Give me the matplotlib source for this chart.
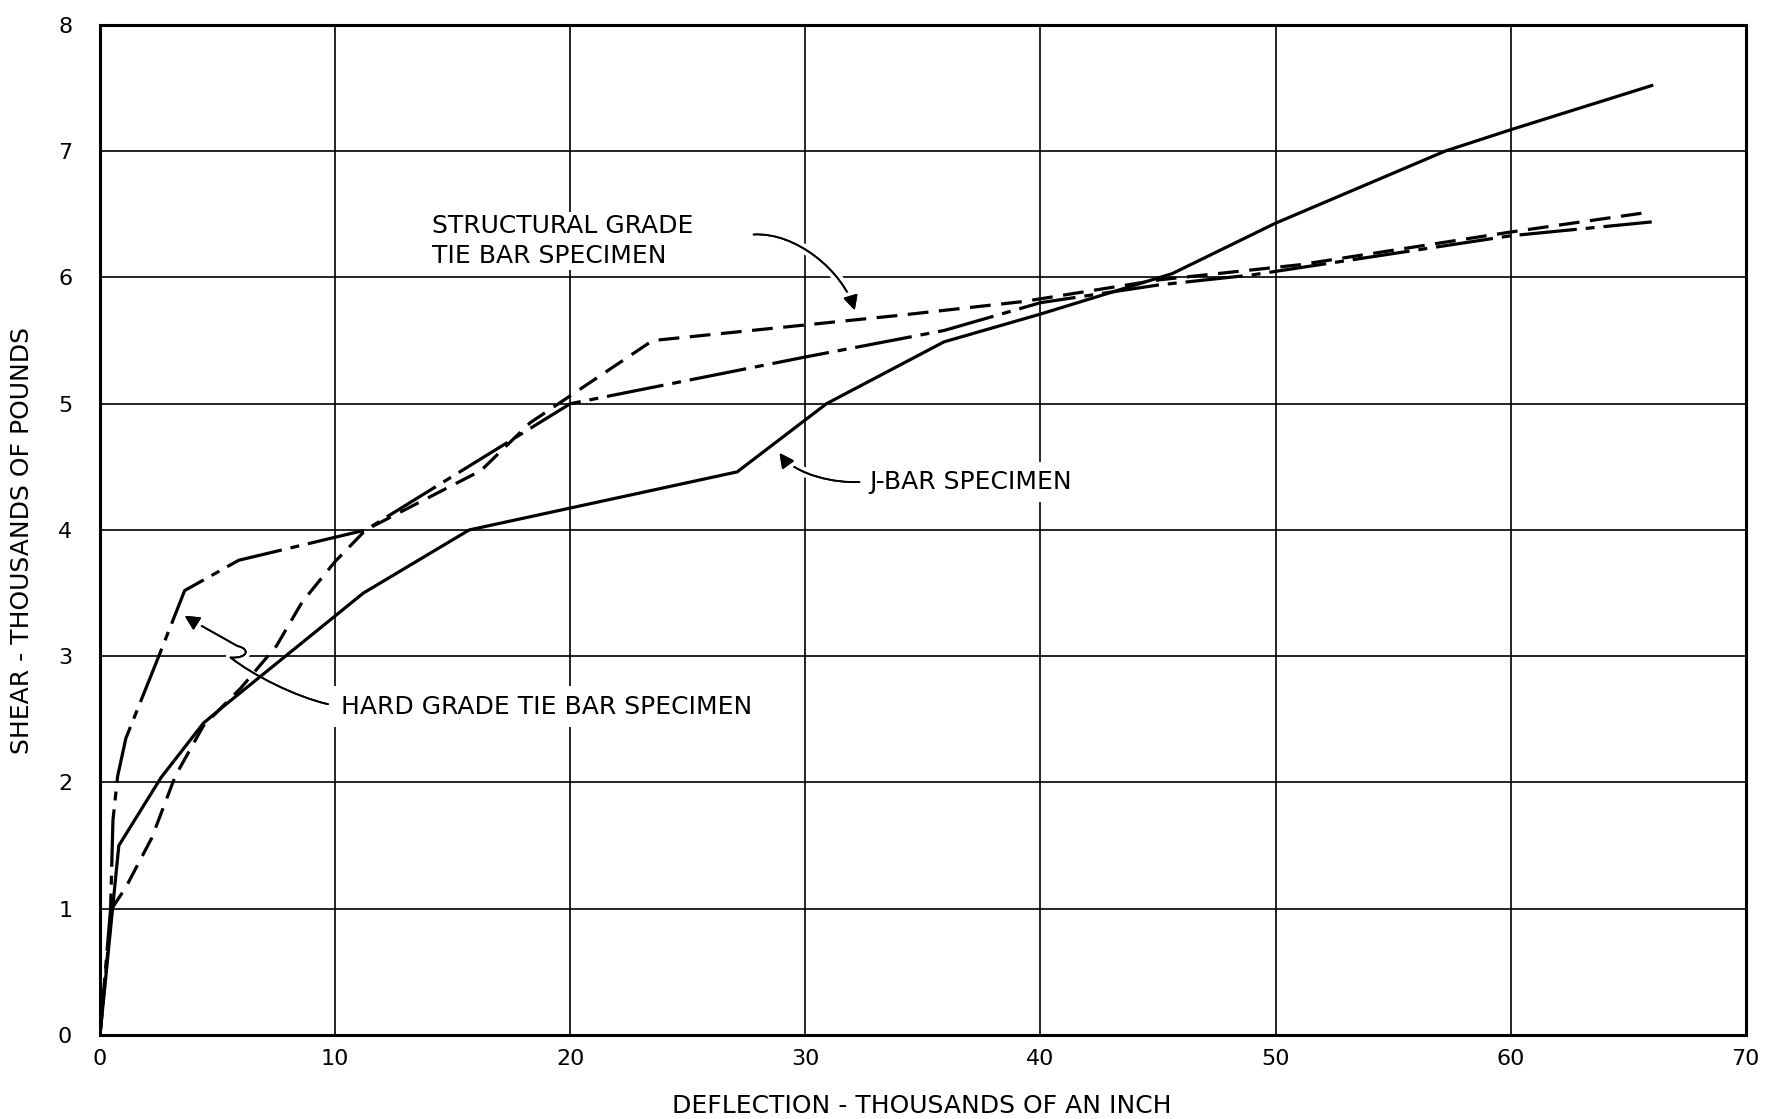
import matplotlib
matplotlib.use("Agg")
import matplotlib.pyplot as plt
from matplotlib.patches import FancyArrowPatch
from matplotlib.path import Path
import matplotlib.patheffects as pe

plt.rcParams['font.family'] = ['DejaVu Sans']

# ---- data ----
x_ticks = [0, 10, 20, 30, 40, 50, 60, 70]
y_ticks = [0, 1, 2, 3, 4, 5, 6, 7, 8]

jbar_x = [0, 0.8, 2.6, 4.4, 5.3, 11.2, 15.7, 27.1, 30.9, 35.9, 40.0, 45.6, 50.0, 57.2, 60.0, 66.0]
jbar_y = [0, 1.5, 2.04, 2.47, 2.61, 3.5, 4.0, 4.46, 5.0, 5.49, 5.71, 6.03, 6.43, 7.0, 7.17, 7.52]

hard_x = [0, 0.45, 0.55, 0.75, 1.1, 2.5, 3.6, 5.9, 11.3, 20.0, 30.0, 35.9, 40.0, 45.0, 49.0, 60.0, 66.0]
hard_y = [0, 1.0, 1.7, 2.05, 2.35, 3.0, 3.52, 3.76, 4.0, 5.0, 5.37, 5.58, 5.8, 5.94, 6.02, 6.33, 6.44]

struct_x = [0, 0.5, 1.1, 2.2, 3.2, 4.4, 6.0, 7.5, 8.6, 10.0, 11.3, 16.2, 18.3, 23.5, 34.0, 39.3, 45.0, 51.0, 60.0, 66.0]
struct_y = [0, 1.0, 1.17, 1.56, 2.05, 2.45, 2.75, 3.08, 3.43, 3.75, 4.0, 4.47, 4.85, 5.5, 5.7, 5.81, 5.98, 6.1, 6.36, 6.52]

label_struct = "STRUCTURAL GRADE\nTIE BAR SPECIMEN"
label_jbar = "J-BAR SPECIMEN"
label_hard = "HARD GRADE TIE BAR SPECIMEN"

# ---- figure ----
fig = plt.figure(figsize=(17.67, 11.19), dpi=100)
ax = fig.add_axes([0.0566, 0.0751, 0.9314, 0.9026])
ax.set_xlim(0, 70)
ax.set_ylim(0, 8)
ax.set_xticks(x_ticks)
ax.set_yticks(y_ticks)
ax.tick_params(axis='both', length=0, labelsize=16)
ax.tick_params(axis='x', pad=10)
ax.tick_params(axis='y', pad=20)
for s in ax.spines.values():
    s.set_linewidth(2.2)
    s.set_color('black')

ax.set_axisbelow(True)
ax.grid(True, color='black', linewidth=1.2)

lw = 2.3
ax.plot(jbar_x, jbar_y, color='black', lw=lw, solid_joinstyle='round', zorder=3)
ax.plot(hard_x, hard_y, color='black', lw=lw, dashes=(18, 2.8, 2.8, 2.8), zorder=3)
ax.plot(struct_x, struct_y, color='black', lw=lw, dashes=(6.5, 3.3), zorder=3)

ax.set_xlabel("DEFLECTION - THOUSANDS OF AN INCH", fontsize=18)
ax.set_ylabel("SHEAR - THOUSANDS OF POUNDS", fontsize=18)
ax.xaxis.set_label_coords(0.4995, -0.058)
ax.yaxis.set_label_coords(-0.040, 0.49)

ax.text(14.1, 6.29, label_struct, fontsize=18, ha='left', va='center',
        linespacing=1.3, bbox=dict(facecolor='white', edgecolor='none', pad=1.5),
        zorder=1)
ax.text(32.7, 4.38, label_jbar, fontsize=18, ha='left', va='center',
        bbox=dict(facecolor='white', edgecolor='none', pad=6), zorder=1)
ax.text(10.25, 2.6, label_hard, fontsize=18, ha='left', va='center',
        bbox=dict(facecolor='white', edgecolor='none', pad=6), zorder=1)

def arrow(verts, codes):
    p = FancyArrowPatch(path=Path(verts, codes), arrowstyle='-|>', mutation_scale=22,
                        color='black', lw=1.3, transform=ax.transData, zorder=2)
    p.set_path_effects([pe.withStroke(linewidth=7, foreground='white'), pe.Normal()])
    ax.add_patch(p)

C4 = Path.CURVE4
arrow([(27.8, 6.34), (29.6, 6.36), (31.6, 6.05), (32.1, 5.74)],
      [Path.MOVETO, C4, C4, C4])
arrow([(32.3, 4.38), (31.3, 4.37), (29.6, 4.43), (28.9, 4.61)],
      [Path.MOVETO, C4, C4, C4])
arrow([(9.7, 2.62), (8.3, 2.68), (6.5, 2.85), (5.55, 2.99),
       (6.3, 2.98), (6.4, 3.06), (5.85, 3.08),
       (5.0, 3.17), (4.2, 3.25), (3.6, 3.32)],
      [Path.MOVETO, C4, C4, C4, C4, C4, C4, C4, C4, C4])

fig.savefig("out.png", dpi=100, facecolor='white')
